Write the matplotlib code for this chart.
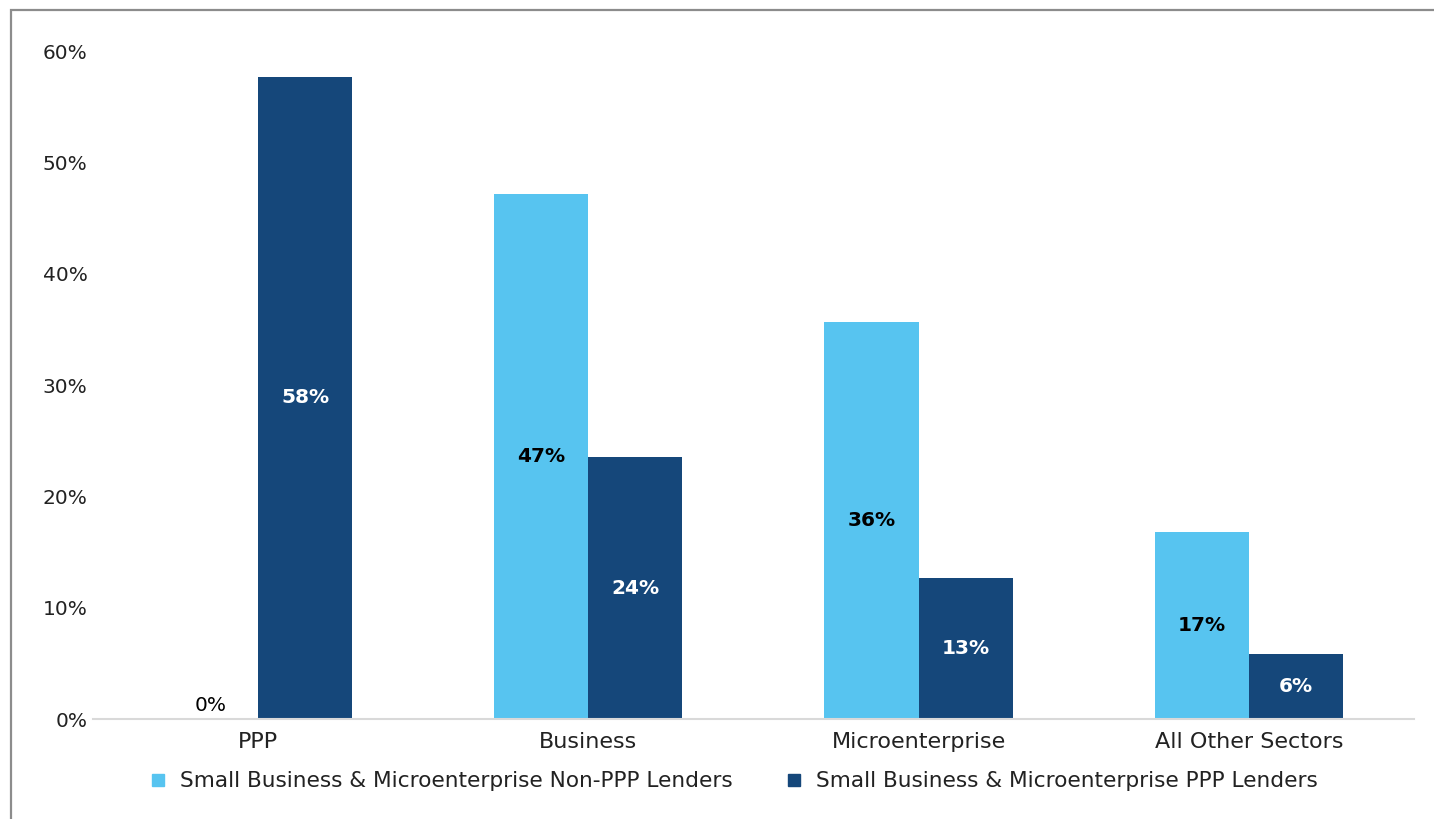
import numpy as np
import matplotlib.pyplot as plt
from matplotlib.lines import Line2D
from matplotlib.patches import Rectangle

# --- datos ---
categorias = ['PPP', 'Business', 'Microenterprise', 'All Other Sectors']
non_ppp = [0.0, 47.2, 35.7, 16.8]      # % Non-PPP lenders
ppp = [57.7, 23.5, 12.7, 5.8]          # % PPP lenders
serie_nombres = ['Small Business & Microenterprise Non-PPP Lenders',
                 'Small Business & Microenterprise PPP Lenders']

color_claro = '#57C4F0'
color_oscuro = '#15477A'

plt.rcParams['font.family'] = ['DejaVu Sans']

fig = plt.figure(figsize=(14.34, 8.19), dpi=100)
ax = fig.add_axes([0.0649, 0.1221, 0.9211, 0.8156])

x = np.arange(len(categorias))
ancho = 0.285
b1 = ax.bar(x - ancho / 2, non_ppp, ancho, color=color_claro)
b2 = ax.bar(x + ancho / 2, ppp, ancho, color=color_oscuro)

# etiquetas centradas en cada barra
for barras, vals, col in [(b1, non_ppp, 'black'), (b2, ppp, 'white')]:
    for rect, v in zip(barras, vals):
        if v == 0:
            ax.text(rect.get_x() + rect.get_width() / 2, 0.4, f'{v:.0f}%',
                    ha='center', va='bottom', fontsize=14.5, color='black')
        else:
            ax.text(rect.get_x() + rect.get_width() / 2, v / 2, f'{round(v):.0f}%',
                    ha='center', va='center', fontsize=14.5, fontweight='bold', color=col)

ax.set_xlim(-0.5, len(categorias) - 0.5)
ax.set_ylim(0, 60)
ax.set_yticks(np.arange(0, 61, 10))
ax.set_yticklabels([f'{t}%' for t in range(0, 61, 10)])
ax.set_xticks(x)
ax.set_xticklabels(categorias, fontsize=16)
ax.tick_params(axis='both', length=0, colors='#222222')
ax.tick_params(axis='y', pad=4, labelsize=14.5)
ax.tick_params(axis='x', pad=9)
for lado in ['top', 'right', 'left']:
    ax.spines[lado].set_visible(False)
ax.spines['bottom'].set_color('#d9d9d9')
ax.spines['bottom'].set_linewidth(1.5)

handles = [Line2D([], [], marker='s', linestyle='none', markersize=9, color=c)
           for c in (color_claro, color_oscuro)]
fig.legend(handles, serie_nombres, loc='center', bbox_to_anchor=(0.507, 0.046),
           ncol=2, frameon=False, fontsize=15.6, handletextpad=0.05,
           columnspacing=1.8, labelcolor='#222222')

# borde gris del marco
fig.patches.append(Rectangle((11 / 1434, -0.2), 1.5, 1.2 - 10 / 819, transform=fig.transFigure,
                             fill=False, edgecolor='#8c8c8c', linewidth=1.6, clip_on=False))

fig.savefig('out.png', dpi=100)
